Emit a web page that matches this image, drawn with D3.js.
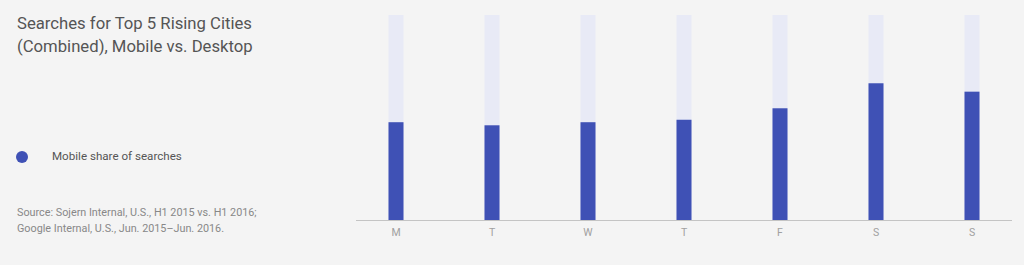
<!DOCTYPE html>
<html>
<head>
<meta charset="utf-8">
<script src="https://cdn.jsdelivr.net/npm/d3@7"></script>
<style>
  body { margin: 0; background: #f4f4f4; }
  #chart text { font-family: Roboto, "Noto Sans", sans-serif; }
</style>
</head>
<body>
<div id="chart"></div>
<script>
// days and mobile share
var days = ["M", "T", "W", "T", "F", "S", "S"];
var mobileShare = [0.477, 0.462, 0.477, 0.489, 0.545, 0.667, 0.626];
var titleLines = ["Searches for Top 5 Rising Cities", "(Combined), Mobile vs. Desktop"];
var legendLabel = "Mobile share of searches";
var sourceLines = ["Source: Sojern Internal, U.S., H1 2015 vs. H1 2016;", "Google Internal, U.S., Jun. 2015\u2013Jun. 2016."];

var width = 1024, height = 265;
var svg = d3.select("#chart").append("svg")
  .attr("width", width)
  .attr("height", height)
  .style("background-color", "#f4f4f4");

// title
svg.append("g").selectAll("text")
  .data(titleLines)
  .enter().append("text")
  .attr("x", 17)
  .attr("y", function(d, i) { return 29 + i * 23; })
  .attr("fill", "#555")
  .attr("font-size", 16.7)
  .text(function(d) { return d; });

// legend
svg.append("circle")
  .attr("cx", 22).attr("cy", 157).attr("r", 6)
  .attr("fill", "#3f51b5");
svg.append("text")
  .attr("x", 52).attr("y", 160)
  .attr("fill", "#555")
  .attr("font-size", 11.6)
  .text(legendLabel);

// source
svg.append("g").selectAll("text")
  .data(sourceLines)
  .enter().append("text")
  .attr("x", 17)
  .attr("y", function(d, i) { return 216 + i * 16; })
  .attr("fill", "#888")
  .attr("font-size", 10.8)
  .text(function(d) { return d; });

// scales
var x = d3.scaleBand()
  .domain(d3.range(days.length))
  .range([348, 1020]);

var y = d3.scaleLinear()
  .domain([0, 1])
  .range([220, 15]);

var barW = 15;

// background (desktop) bars
svg.selectAll(".bar-bg")
  .data(mobileShare)
  .enter().append("rect")
  .attr("class", "bar-bg")
  .attr("x", function(d, i) { return x(i) + x.bandwidth() / 2 - barW / 2; })
  .attr("width", barW)
  .attr("y", y(1))
  .attr("height", y(0) - y(1))
  .attr("fill", "#e8eaf6");

// mobile share bars
svg.selectAll(".bar")
  .data(mobileShare)
  .enter().append("rect")
  .attr("class", "bar")
  .attr("x", function(d, i) { return x(i) + x.bandwidth() / 2 - barW / 2; })
  .attr("width", barW)
  .attr("y", function(d) { return y(d); })
  .attr("height", function(d) { return y(0) - y(d); })
  .attr("fill", "#3f51b5");

// x axis
var axis = svg.append("g")
  .attr("transform", "translate(0," + y(0) + ")")
  .call(d3.axisBottom(x).tickSize(0).tickPadding(9).tickFormat(function(i) { return days[i]; }));
axis.select(".domain").remove();
axis.selectAll("text")
  .attr("fill", "#a0a0a0")
  .attr("font-size", 10.5);

svg.append("line")
  .attr("x1", 356).attr("x2", 1012)
  .attr("y1", y(0) + 0.5).attr("y2", y(0) + 0.5)
  .attr("stroke", "#c4c4c4")
  .attr("stroke-width", 1);
</script>
</body>
</html>
